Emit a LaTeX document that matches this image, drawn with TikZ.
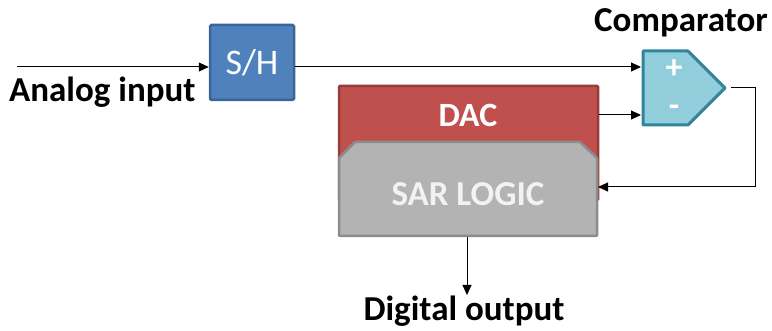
\documentclass[tikz,border=0pt]{standalone}
\usepackage{fontspec}
\setmainfont{Carlito}
\usetikzlibrary{arrows.meta}
\definecolor{shfill}{HTML}{4F81BD}
\definecolor{shline}{HTML}{3A6596}
\definecolor{dacfill}{HTML}{C0504D}
\definecolor{dacline}{HTML}{963C3A}
\definecolor{sarfill}{HTML}{B3B3B3}
\definecolor{sarline}{HTML}{8C8C8C}
\definecolor{sartext}{HTML}{F2F2F2}
\definecolor{cmpfill}{HTML}{92CDDC}
\definecolor{cmpline}{HTML}{31849B}
\tikzset{
  wire/.style={line width=1pt, draw=black},
  arr/.style={wire, -{Triangle[length=10pt,width=9pt]}},
  lbl/.style={font=\fontsize{35}{40}\selectfont\bfseries, text=black, inner sep=0pt},
  wtxt/.style={font=\fontsize{35}{40}\selectfont\bfseries, inner sep=0pt},
}
\begin{document}
\begin{tikzpicture}[x=1pt,y=-1pt]
\useasboundingbox (0,0) rectangle (772,331);
% S/H
\node[draw=shline, fill=shfill, line width=2.5pt, rounded corners=1.5pt,
      minimum width=84pt, minimum height=75pt, inner sep=0pt,
      text=white, font=\fontsize{36}{40}\selectfont] (sh) at (252,62.5) {S/H};
% DAC
\node[draw=dacline, fill=dacfill, line width=2.5pt, rounded corners=1pt,
      minimum width=259pt, minimum height=114pt, inner sep=0pt] (dac) at (468.5,143) {};
\node[wtxt, text=white, font=\fontsize{34}{40}\selectfont\bfseries] (dact) at (468,115) {DAC};
% SAR logic
\draw[draw=sarline, fill=sarfill, line width=2.5pt, rounded corners=1pt]
  (355,142) -- (580,142) -- (597,158) -- (597,236) -- (339,236) -- (339,158) -- cycle;
\coordinate (sarR) at (598,187);
\coordinate (sarB) at (467,237);
\node[wtxt, text=sartext] (sart) at (468,194) {SAR LOGIC};
% Comparator
\draw[draw=cmpline, fill=cmpfill, line width=3pt, line join=round]
  (643,51) -- (688,51) -- (725,88) -- (688,125) -- (643,125) -- cycle;
\coordinate (cp) at (641,67);
\coordinate (cm) at (641,115);
\coordinate (co) at (731,88);
\node[text=white, font=\fontsize{34}{36}\selectfont\bfseries, inner sep=0pt] (plus) at (674,69) {+};
\node[text=white, font=\fontsize{34}{36}\selectfont\bfseries, inner sep=0pt] (minus) at (674,111) {-};
% labels
\node[lbl, anchor=base west] (ain) at (9,102) {Analog input};
\node[lbl, anchor=base] (dout) at (464,321) {Digital output};
\node[lbl, anchor=base] (cmpl) at (681,32) {Comparator};
% wires
\coordinate (inS) at (17,67);
\draw[arr] (inS) -- (sh.west |- inS);
\draw[arr] (sh.east |- cp) -- (cp);
\draw[arr] (dac.east |- cm) -- (cm);
\coordinate (c1) at (755,88);
\coordinate (c2) at (755,187);
\draw[arr] (co) -- (c1) -- (c2) -- (sarR);
\coordinate (dtip) at (467,295);
\draw[arr] (sarB) -- (dtip);
\end{tikzpicture}
\end{document}
